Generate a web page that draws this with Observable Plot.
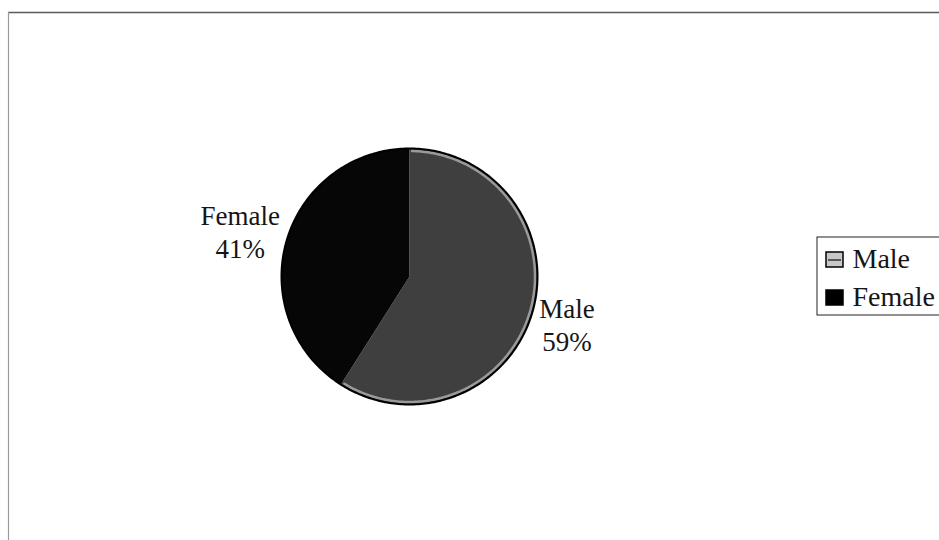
<!DOCTYPE html>
<html><head><meta charset="utf-8">
<script src="https://cdn.jsdelivr.net/npm/d3@7"></script>
<script src="https://cdn.jsdelivr.net/npm/@observablehq/plot@0.6"></script>
<style>body{margin:0;background:#fff}</style>
</head><body><div id="chart"></div>
<script>
// ---- data ----
const categories = ["Male", "Female"];
const shares = [59, 41];
const shareLabels = ["59%", "41%"];
const sliceColors = ["#3f3f3f", "#060606"];
const legendSwatchColors = ["#c8c8c8", "#000000"];

// ---- layout ----
const W = 939, H = 540;
const cx = 409, cy = 276, r = 128;
const font = "'Liberation Serif', 'DejaVu Serif', serif";
const labelSize = 27, legendSize = 28;

const ctx = document.createElement("canvas").getContext("2d");
ctx.font = `${labelSize}px 'Liberation Serif'`;
const textWidth = s => ctx.measureText(s).width;

const arcs = d3.pie().sort(null).value(d => d)(shares);

function arcPoints(a0, a1, rad, cat) {
  const n = Math.max(2, Math.ceil((a1 - a0) / (Math.PI / 180)));
  const out = [];
  for (let k = 0; k <= n; k++) {
    const a = a0 + (a1 - a0) * k / n;
    out.push({cat, x: cx + rad * Math.sin(a), y: cy - rad * Math.cos(a)});
  }
  return out;
}

const slicePts = [];
arcs.forEach((s, i) => {
  const c = categories[i];
  slicePts.push({cat: c, x: cx, y: cy});
  slicePts.push(...arcPoints(s.startAngle, s.endAngle, r, c));
  slicePts.push({cat: c, x: cx, y: cy});
});
const rimPts = arcPoints(arcs[0].startAngle + 0.02, arcs[0].endAngle - 0.02, r - 2.5, "rim");
const outline = arcPoints(0, 2 * Math.PI, r, "outline");

const labels = arcs.map((s, i) => {
  const mid = (s.startAngle + s.endAngle) / 2;
  const dx = Math.sin(mid), dy = -Math.cos(mid);
  const halfW = Math.max(textWidth(categories[i]), textWidth(shareLabels[i])) / 2;
  return {
    text: categories[i] + "\n" + shareLabels[i],
    x: cx + dx * (r + 7) + Math.sign(dx) * halfW,
    y: cy + 28 + dy * 165
  };
});

const legend = categories.map((c, i) => ({cat: c, color: legendSwatchColors[i], row: i}));

const chart = Plot.plot({
  width: W, height: H,
  margin: 0,
  x: {domain: [0, W], axis: null},
  y: {domain: [0, H], reverse: true, axis: null},
  color: {domain: categories, range: sliceColors},
  style: {fontFamily: font, background: "white", color: "black"},
  marks: [
    // outer frame
    Plot.ruleY([12], {x1: 8, x2: W, stroke: "#5a5a5a", strokeWidth: 1.5}),
    Plot.ruleX([8], {y1: 12, y2: H, stroke: "#9a9a9a", strokeWidth: 1.2}),
    // pie slices
    Plot.line(slicePts, {x: "x", y: "y", z: "cat", fill: "cat", stroke: null, curve: "linear"}),
    Plot.line(rimPts, {x: "x", y: "y", stroke: "#9a9a9a", strokeWidth: 2.5}),
    Plot.line(outline, {x: "x", y: "y", stroke: "#000", strokeWidth: 2}),
    // labels
    Plot.text(labels, {x: "x", y: "y", text: "text", fontSize: labelSize, lineHeight: 33 / labelSize, lineAnchor: "bottom", fill: "#151515", textAnchor: "middle"}),
    // legend
    Plot.rect([0], {x1: 817, x2: W + 5, y1: 237, y2: 315, fill: "white", stroke: "#222", strokeWidth: 1}),
    Plot.rect(legend, {x1: 826, x2: 843, y1: d => 252 + d.row * 38, y2: d => 267 + d.row * 38, fill: "color", stroke: "#000", strokeWidth: 1.5}),
    Plot.ruleY(legend.filter(d => d.row === 0), {x1: 828, x2: 841, y: d => 259.5 + d.row * 38, stroke: "#333", strokeWidth: 1.5}),
    Plot.text(legend, {x: 852, y: d => 267 + d.row * 38, text: "cat", fontSize: legendSize, textAnchor: "start", lineAnchor: "bottom", fill: "#151515"})
  ]
});
document.getElementById("chart").append(chart);
</script>
</body></html>
